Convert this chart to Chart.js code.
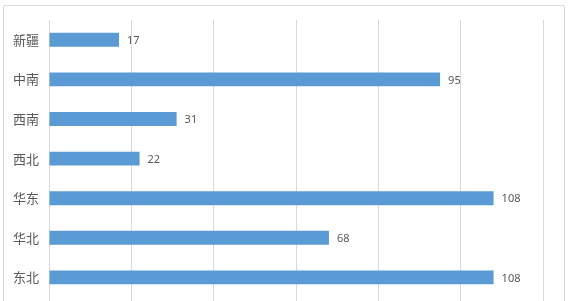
<!DOCTYPE html>
<html><head><meta charset="utf-8">
<script src="https://cdn.jsdelivr.net/npm/chart.js@4/dist/chart.umd.min.js"></script>
<style>
html,body{margin:0;padding:0;background:#fff;overflow:hidden;width:573px;height:301px;}
#frame{position:absolute;left:3px;top:5px;width:562px;height:320px;border:1px solid #dadada;border-radius:2px;box-sizing:border-box;}
#wrap{position:absolute;left:0;top:0;width:573px;height:315px;}
canvas{display:block;}
</style></head>
<body>
<div id="frame"></div>
<div id="wrap"><canvas id="c" width="573" height="315"></canvas></div>
<script>
const categories = ['新疆','中南','西南','西北','华东','华北','东北'];
const values = [17, 95, 31, 22, 108, 68, 108];
const xMin = 0, xMax = 120, xStep = 20;

const valueLabels = {
  id: 'valueLabels',
  afterDatasetsDraw(chart) {
    const ctx = chart.ctx;
    const meta = chart.getDatasetMeta(0);
    ctx.save();
    ctx.font = '11px "Noto Sans", "DejaVu Sans", sans-serif';
    ctx.fillStyle = '#595959';
    ctx.textAlign = 'left';
    ctx.textBaseline = 'middle';
    meta.data.forEach((bar, i) => {
      ctx.fillText(String(values[i]), bar.x + 8, bar.y + 1);
    });
    ctx.restore();
  }
};

new Chart(document.getElementById('c'), {
  type: 'bar',
  data: {
    labels: categories,
    datasets: [{
      data: values,
      backgroundColor: '#5B9BD5',
      borderWidth: 0,
      barPercentage: 0.7,
      categoryPercentage: 0.5
    }]
  },
  options: {
    indexAxis: 'y',
    responsive: false,
    animation: false,
    layout: { padding: { left: 12, right: 30, top: 20, bottom: 0 } },
    plugins: { legend: { display: false }, tooltip: { enabled: false } },
    scales: {
      x: {
        min: xMin, max: xMax,
        ticks: { display: false, stepSize: xStep },
        grid: { color: '#d9d9d9', lineWidth: 1, drawTicks: true, tickLength: 8 },
        border: { display: false }
      },
      y: {
        ticks: { color: '#595959', font: { family: '"Noto Sans CJK SC", sans-serif', size: 13 }, padding: 10 },
        grid: { display: false, drawTicks: false },
        border: { display: false },
        afterFit(scale) { scale.width = 37; }
      }
    }
  },
  plugins: [valueLabels]
});
</script>
</body></html>
